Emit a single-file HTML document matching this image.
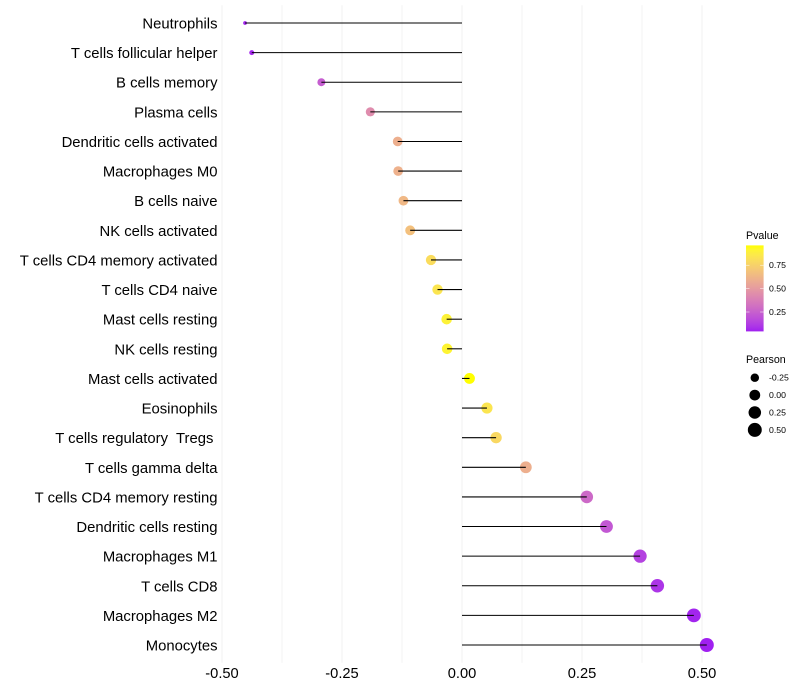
<!DOCTYPE html>
<html lang="en">
<head>
<meta charset="utf-8">
<title>Immune cell correlation lollipop chart</title>
<style>
html,body{margin:0;padding:0;background:#fff;}
svg{display:block;}
text{font-family:"Liberation Sans",sans-serif;fill:#000;white-space:pre;}
</style>
</head>
<body>
<svg id="chart" width="800" height="700" viewBox="0 0 800 700" xmlns="http://www.w3.org/2000/svg">
<defs>
<linearGradient id="pvalue-gradient" x1="0" y1="1" x2="0" y2="0"></linearGradient>
</defs>
<rect width="800" height="700" fill="#ffffff"></rect>
<g id="grid"></g>
<g id="points"></g>
<g id="stems"></g>
<g id="ylabels"></g>
<g id="xlabels"></g>
<g id="legend-p"></g>
<g id="legend-s"></g>
</svg>
<script>
const cellTypes = ["Neutrophils","T cells follicular helper","B cells memory","Plasma cells","Dendritic cells activated","Macrophages M0","B cells naive","NK cells activated","T cells CD4 memory activated","T cells CD4 naive","Mast cells resting","NK cells resting","Mast cells activated","Eosinophils","T cells regulatory  Tregs ","T cells gamma delta","T cells CD4 memory resting","Dendritic cells resting","Macrophages M1","T cells CD8","Macrophages M2","Monocytes"];
const pearsonValues = [-0.452,-0.438,-0.293,-0.191,-0.134,-0.133,-0.122,-0.108,-0.0646,-0.051,-0.032,-0.031,0.0156,0.052,0.071,0.133,0.26,0.301,0.371,0.407,0.483,0.51];
const pValues = [0.035,0.045,0.22,0.42,0.58,0.59,0.62,0.66,0.79,0.83,0.89,0.9,0.95,0.83,0.77,0.58,0.27,0.2,0.12,0.08,0.035,0.025];
const xTicks = [-0.5,-0.25,0,0.25,0.5];
const xTickLabels = ["-0.50","-0.25","0.00","0.25","0.50"];
const xMinorGrid = [-0.375,-0.125,0.125,0.375];
const pLegendTicks = [0.25,0.5,0.75];
const pLegendLabels = ["0.25","0.50","0.75"];
const sizeLegendValues = [-0.25,0,0.25,0.5];
const sizeLegendLabels = ["-0.25","0.00","0.25","0.50"];

const NS = "http://www.w3.org/2000/svg";
function make(tag, parent, props, content) {
  const el = document.createElementNS(NS, tag);
  for (const k in props) el.setAttribute(k, props[k]);
  if (content !== undefined) el.textContent = content;
  document.getElementById(parent).appendChild(el);
  return el;
}

/* axis functions */
const xScale = v => 462 + v * 480;
const yScale = i => 23 + i * (622 / (cellTypes.length - 1));
const minR = Math.min(...pearsonValues), maxR = Math.max(...pearsonValues);
const sizeScale = v => 1.9 + 5.1 * Math.sqrt(Math.max(0, (v - minR) / (maxR - minR)));
const minP = Math.min(...pValues), maxP = Math.max(...pValues);
const legendPY = p => 312 - (p - 0.25) / 0.25 * 23.4;

/* Lab colour interpolation, purple to yellow */
function toLin(c){c/=255;return c<=0.04045?c/12.92:Math.pow((c+0.055)/1.055,2.4);}
function toSrgb(c){c=c<=0.0031308?12.92*c:1.055*Math.pow(c,1/2.4)-0.055;return Math.round(Math.min(1,Math.max(0,c))*255);}
function lab(rgb){
  const [r,g,b]=rgb.map(toLin);
  const X=(0.4124*r+0.3576*g+0.1805*b)/0.95047,Y=0.2126*r+0.7152*g+0.0722*b,Z=(0.0193*r+0.1192*g+0.9505*b)/1.08883;
  const f=t=>t>0.008856?Math.cbrt(t):7.787*t+16/116;
  return [116*f(Y)-16,500*(f(X)-f(Y)),200*(f(Y)-f(Z))];
}
function unlab(L){
  const fy=(L[0]+16)/116,fx=fy+L[1]/500,fz=fy-L[2]/200;
  const g=t=>t*t*t>0.008856?t*t*t:(t-16/116)/7.787;
  const X=g(fx)*0.95047,Y=g(fy),Z=g(fz)*1.08883;
  return "rgb("+toSrgb(3.2406*X-1.5372*Y-0.4986*Z)+","+toSrgb(-0.9689*X+1.8758*Y+0.0415*Z)+","+toSrgb(0.0557*X-0.204*Y+1.057*Z)+")";
}
const labLow = lab([160,32,240]), labHigh = lab([255,255,0]);
const colorAt = t => unlab(labLow.map((a,i)=>a+(labHigh[i]-a)*t));
const colorScale = p => colorAt((p - minP) / (maxP - minP));

/* grid */
xMinorGrid.forEach(v => {
  const el = make("line","grid",{x1:xScale(v),x2:xScale(v),y1:5.2,y2:662.8,stroke:"#ebebeb","stroke-width":0.6});
  
  
});
xTicks.forEach(v => {
  const el = make("line","grid",{x1:xScale(v),x2:xScale(v),y1:5.2,y2:662.8,stroke:"#f1f1f1","stroke-width":1.07});
  
  
});

/* points, stems and category labels */
cellTypes.forEach((name,i) => {
  const v = pearsonValues[i];
  const pt = make("circle","points",{cx:xScale(v),cy:yScale(i),r:sizeScale(v),fill:colorScale(pValues[i])});
  
  
  const st = make("line","stems",{x1:xScale(0),x2:xScale(v),y1:yScale(i),y2:yScale(i),stroke:"#000","stroke-width":1.07});
  
  
  const lb = make("text","ylabels",{x:217.5,y:yScale(i)+5.5,"text-anchor":"end","font-size":14.85},name);
  
  
});

/* x tick labels */
xTicks.forEach((v,i) => {
  const lb = make("text","xlabels",{x:xScale(v),y:678,"text-anchor":"middle","font-size":14.67},xTickLabels[i]);
  
  
});

/* p-value legend */
const grad = document.getElementById("pvalue-gradient");
for (let s = 0; s <= 20; s++) {
  const stop = document.createElementNS(NS,"stop");
  stop.setAttribute("offset", s/20);
  stop.setAttribute("stop-color", colorAt(s/20));
  grad.appendChild(stop);
}
const pTitle = make("text","legend-p",{x:746,y:239,"font-size":10.67},"Pvalue");


const pBar = make("rect","legend-p",{x:746,y:245.4,width:17.6,height:86,fill:"url(#pvalue-gradient)"});


pLegendTicks.forEach((p,i) => {
  const t1 = make("line","legend-p",{x1:746,x2:749.5,y1:legendPY(p),y2:legendPY(p),stroke:"#fff","stroke-width":0.5});
  
  
  const t2 = make("line","legend-p",{x1:760.1,x2:763.6,y1:legendPY(p),y2:legendPY(p),stroke:"#fff","stroke-width":0.5});
  
  
  const lb = make("text","legend-p",{x:769,y:legendPY(p)+3,"font-size":8.7},pLegendLabels[i]);
  
  
});

/* Pearson size legend */
const sTitle = make("text","legend-s",{x:746,y:363,"font-size":10.67},"Pearson");


sizeLegendValues.forEach((v,i) => {
  const cy = 377.7 + i * 17.4;
  const c = make("circle","legend-s",{cx:754.8,cy:cy,r:sizeScale(v),fill:"#000"});
  
  
  const lb = make("text","legend-s",{x:769,y:cy+3,"font-size":8.7},sizeLegendLabels[i]);
  
  
});
</script>
</body>
</html>
